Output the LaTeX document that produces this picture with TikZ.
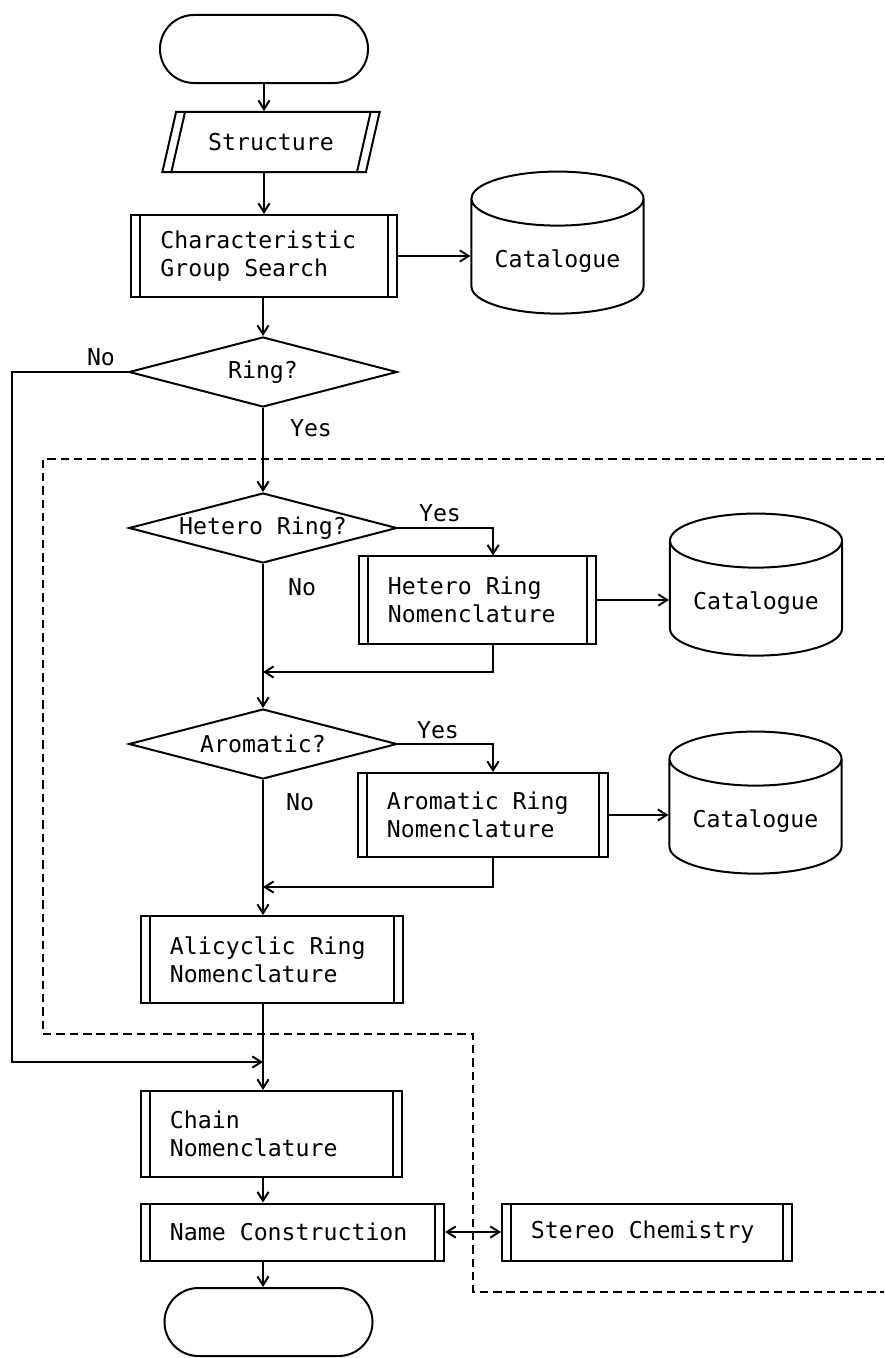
\documentclass[tikz,border=0pt]{standalone}
\usepackage{fontspec}
\setmainfont{DejaVu Sans Mono}[WordSpace={1,0,0}]
\usepackage{tikz}
\usetikzlibrary{arrows.meta,positioning,shapes.geometric}

\tikzset{
  termbox/.style={draw,rounded corners=0.85cm,minimum width=5.2cm,minimum height=1.7cm},
  iobox/.style={draw,trapezium,trapezium left angle=63,trapezium right angle=117,
    trapezium stretches body,minimum width=5.43cm,minimum height=1.5cm},
  decbox/.style={draw,diamond,aspect=3.8,inner sep=0pt,minimum width=6.7cm,minimum height=1.75cm},
  procbox/.style={draw,align=left,inner xsep=7.25mm,
    execute at begin node={\spaceskip=0pt\xspaceskip=0pt\relax},
    path picture={
      \draw ([xshift=2.2mm]path picture bounding box.north west) -- ([xshift=2.2mm]path picture bounding box.south west);
      \draw ([xshift=-2.2mm]path picture bounding box.north east) -- ([xshift=-2.2mm]path picture bounding box.south east);}},
  storebox/.style={draw,cylinder,shape border rotate=90,aspect=0.4,minimum width=4.3cm,minimum height=3.55cm},
  region/.style={line width=1pt,dash pattern=on 6pt off 3.5pt}
}

\begin{document}
\begin{tikzpicture}[x=0.025cm,y=-0.025cm,line width=1.42pt,
  >={Straight Barb[length=2.2mm,width=2.8mm]},
  every node/.style={font=\fontsize{16.5}{20}\selectfont}]
  \useasboundingbox (0,0) rectangle (884,1358);

  % main column
  \node[termbox] (term1) at (264,49) {};
  \node[iobox] (struct) at (271,142) {Structure};
  \draw ([xshift=2.5mm]struct.bottom left corner) -- ([xshift=2.5mm]struct.top left corner);
  \draw ([xshift=-2.5mm]struct.bottom right corner) -- ([xshift=-2.5mm]struct.top right corner);
  \node[procbox,text width=5.175cm,minimum height=2.05cm] (charg) at (264,256)
    {Characteristic\\Group Search};
  \node[storebox] (cat1) at (557.5,261) {Catalogue};
  \node[decbox] (ring) at (263,372) {Ring?};

  % ring part
  \node[decbox] (hetero) at (263,528) {Hetero Ring?};
  \node[procbox,text width=4.475cm,minimum height=2.175cm] (hetnom) at (477.5,600)
    {Hetero Ring\\Nomenclature};
  \node[storebox] (cat2) at (756,603) {Catalogue};
  \node[decbox] (arom) at (263,744) {Aromatic?};
  \node[procbox,text width=4.8cm,minimum height=2.1cm] (aronom) at (483,815)
    {Aromatic Ring\\Nomenclature};
  \node[storebox] (cat3) at (755.5,821) {Catalogue};
  \node[procbox,text width=5.1cm,minimum height=2.175cm] (alinom) at (272,959.5)
    {Alicyclic Ring\\Nomenclature};

  % chain and name
  \node[procbox,text width=5.075cm,minimum height=2.15cm] (chainnom) at (271.5,1134)
    {Chain\\Nomenclature};
  \node[procbox,text width=6.125cm,minimum height=1.425cm] (namecon) at (292.5,1232)
    {Name Construction};
  \node[procbox,text width=5.8cm,minimum height=1.425cm] (stereo) at (647,1232)
    {Stereo Chemistry};
  \node[termbox] (term2) at (268.5,1322) {};

  % labels
  \node (ringno) at (101,357) {No};
  \node (ringyes) at (311,428) {Yes};
  \node (hetyes) at (440,513) {Yes};
  \node (hetno) at (302,587) {No};
  \node (aroyes) at (438,730) {Yes};
  \node (arono) at (300,802) {No};

  \coordinate (hetback) at (263,672);
  \coordinate (aroback) at (263,887);
  \coordinate (rail) at (12,1062);
  \coordinate (join) at (263,1062);

  % connectors
  \draw[->] (term1.south) -- (term1.south |- struct.north);
  \draw[->] (charg.north |- struct.south) -- (charg.north);
  \draw[->] (charg.east) -- (charg.east -| cat1.west);
  \draw[->] (ring.north |- charg.south) -- (ring.north);
  \draw[->] (ring.west) -| (rail) -- (join);
  \draw[->] (ring.south) -- (hetero.north);
  \draw[->] (hetero.east) -| ([xshift=0.39cm]hetnom.north);
  \draw[->] (hetnom.east) -- (hetnom.east -| cat2.west);
  \draw[->] ([xshift=0.39cm]hetnom.south) |- (hetback);
  \draw[->] (hetero.south) -- (arom.north);
  \draw[->] (arom.east) -| ([xshift=0.25cm]aronom.north);
  \draw[->] (aronom.east) -- (aronom.east -| cat3.west);
  \draw[->] ([xshift=0.25cm]aronom.south) |- (aroback);
  \draw[->] (arom.south) -- (arom.south |- alinom.north);
  \draw[->] (join |- alinom.south) -- (join |- chainnom.north);
  \draw[->] (join |- chainnom.south) -- (join |- namecon.north);
  \draw[<->] (namecon.east) -- (stereo.west);
  \draw[->] (join |- namecon.south) -- (join |- term2.north);

  % ring region
  \draw[region] (884,459) -- (43,459) -- (43,1034) -- (473,1034) -- (473,1292) -- (884,1292);
\end{tikzpicture}
\end{document}
